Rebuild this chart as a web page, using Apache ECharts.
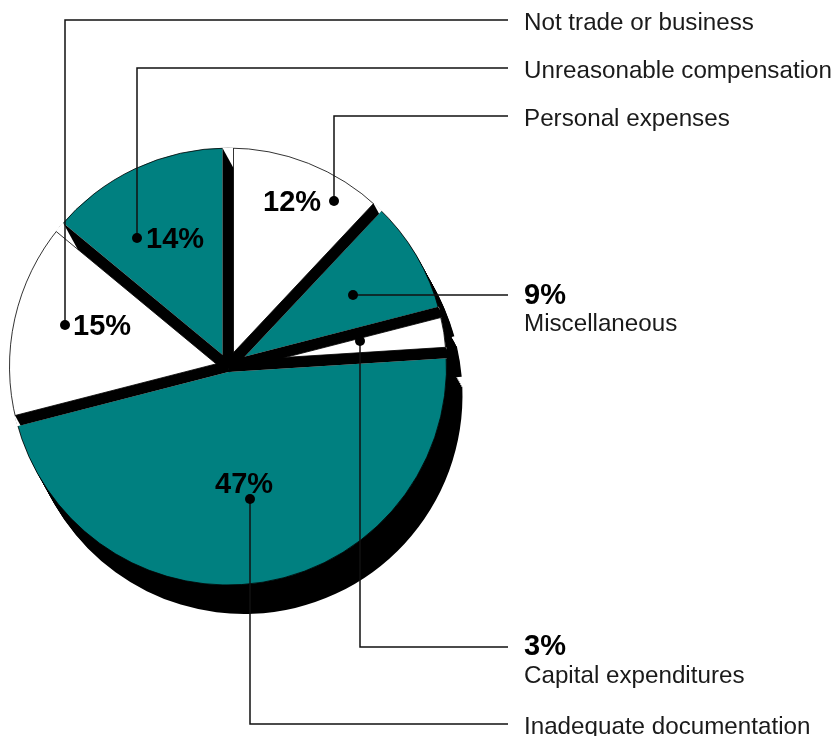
<!DOCTYPE html>
<html><head><meta charset="utf-8">
<style>html,body{margin:0;padding:0;background:#fff}#c{width:835px;height:736px}</style>
<script src="https://cdn.jsdelivr.net/npm/echarts@6/dist/echarts.min.js"></script>
</head><body><div id="c"></div>
<script>
const categories = ['Personal expenses','Miscellaneous','Capital expenditures','Inadequate documentation','Not trade or business','Unreasonable compensation'];
const shares = [12, 9, 3, 47, 15, 14];

const CX = 228, CY = 366.5, R = 218.5, GAP = 5.5, DX = 16, DY = 29;
const TEAL = '#008080', INK = '#1a1a1a';
const SANS = '"Liberation Sans", Arial, sans-serif';
const sliceFill = i => i % 2 ? TEAL : '#ffffff';
const pieData = categories.map((name, i) => ({name, value: shares[i]}));

const series = [];
for (let k = 1; k <= 16; k++) {
  series.push({
    type: 'pie', silent: true, animation: false, z: 1, startAngle: 90, padAngle: 2.6,
    center: [CX + DX * k / 16, CY + DY * k / 16], radius: [0, R],
    label: {show: false}, labelLine: {show: false},
    itemStyle: {color: '#000'}, data: pieData
  });
}
series.push({
  type: 'pie', silent: true, animation: false, z: 2, startAngle: 90,
  center: [CX, CY], radius: [0, R],
  label: {show: false}, labelLine: {show: false},
  itemStyle: {borderColor: '#000', borderWidth: 0.8},
  data: pieData.map((d, i) => ({...d, itemStyle: {color: sliceFill(i)}}))
});

// slice boundaries, as running totals of the shares
const total = shares.reduce((a, b) => a + b, 0);
let run = 0;
const boundaries = shares.map((v, i) => { const b = [run / total * 360, i]; run += v; return b; });

const frame = api => {
  const t = api.value(0) * Math.PI / 180;
  const ux = Math.sin(t), uy = -Math.cos(t), nx = Math.cos(t), ny = Math.sin(t);
  return {nx, ny, at: (side, len) => [CX + side * GAP * nx + len * ux, CY + side * GAP * ny + len * uy]};
};
const L = Math.sqrt(R * R - GAP * GAP);

// the open gap between two slices, with the thin edge of any white slice
series.push({
  type: 'custom', coordinateSystem: 'none', silent: true, animation: false, z: 3, clip: false,
  data: boundaries,
  renderItem(params, api) {
    const {at} = frame(api), idx = api.value(1);
    const kids = [{type: 'polygon', shape: {points: [at(-1, 0), at(-1, R + .6), at(1, R + .6), at(1, 0)]}, style: {fill: '#fff'}}];
    const before = (idx + shares.length - 1) % shares.length;
    [[1, idx], [-1, before]].forEach(([side, i]) => {
      if (i % 2 === 0) kids.push({type: 'line', shape: {x1: at(side, 0)[0], y1: at(side, 0)[1], x2: at(side, L)[0], y2: at(side, L)[1]}, style: {stroke: '#000', lineWidth: 0.8}});
    });
    return {type: 'group', children: kids};
  }
});
// the extruded side seen through each gap
series.push({
  type: 'custom', coordinateSystem: 'none', silent: true, animation: false, z: 4, clip: false,
  data: boundaries,
  renderItem(params, api) {
    const {nx, ny, at} = frame(api);
    const dn = DX * nx + DY * ny, s = dn > 0 ? 1 : -1;
    const P = at(-s, L), m = 2 * GAP / Math.abs(dn);
    const Q = [P[0] + DX * m, P[1] + DY * m];
    return {type: 'polygon', shape: {points: [at(-s, 0), P, Q, at(s, 0)]}, style: {fill: '#000'}};
  }
});

const leader = pts => [
  {type: 'polyline', z: 10, shape: {points: pts}, style: {stroke: '#111', lineWidth: 1.5, fill: null}},
  {type: 'circle', z: 10, shape: {cx: pts[0][0], cy: pts[0][1], r: 5}, style: {fill: '#000'}}
];
const txt = (s, x, y, bold) => ({type: 'text', z: 11, x, y, style: {
  text: s, fill: bold ? '#000' : INK, font: (bold ? 'bold 29px ' : '24.2px ') + SANS, textVerticalAlign: 'middle'
}});

const graphic = [
  ...leader([[65,325],[65,20],[508,20]]),
  ...leader([[137,238],[137,68],[508,68]]),
  ...leader([[334,201],[334,116],[508,116]]),
  ...leader([[353,295],[508,295]]),
  ...leader([[360,341],[360,647],[508,647]]),
  ...leader([[250,499],[250,724],[508,724]]),
  txt(shares[0] + '%', 263, 203, true),
  txt(shares[5] + '%', 146, 240, true),
  txt(shares[4] + '%', 73, 327, true),
  txt(shares[3] + '%', 215, 485, true),
  txt(shares[1] + '%', 524, 296, true),
  txt(shares[2] + '%', 524, 647, true),
  txt(categories[4], 524, 23),
  txt(categories[5], 524, 71),
  txt(categories[0], 524, 119),
  txt(categories[1], 524, 324),
  txt(categories[2], 524, 676),
  txt(categories[3], 524, 727)
];

const chart = echarts.init(document.getElementById('c'), null, {renderer: 'canvas'});
chart.setOption({animation: false, backgroundColor: '#fff', series, graphic});
</script></body></html>
